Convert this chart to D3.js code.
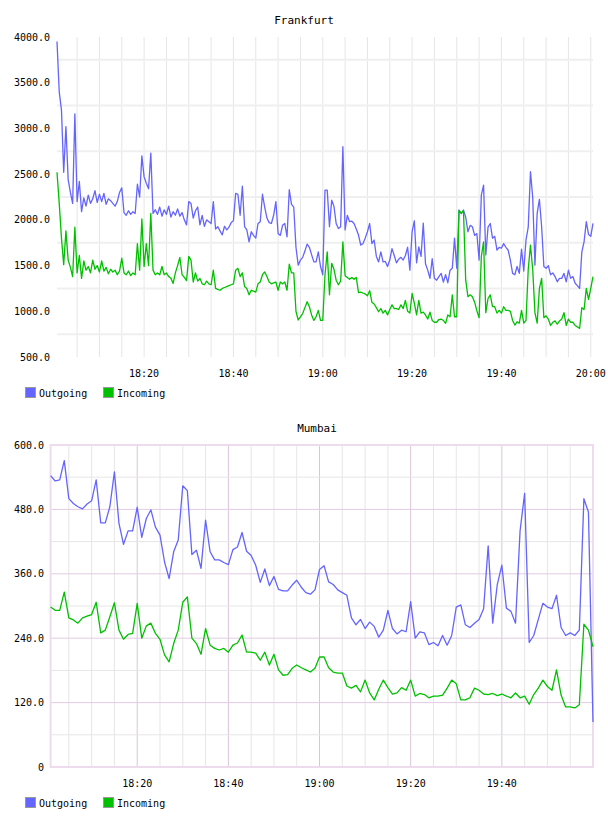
<!DOCTYPE html>
<html>
<head>
<meta charset="utf-8">
<script src="https://cdn.jsdelivr.net/npm/d3@7"></script>
<style>
  body { margin: 0; background: #fff; }
  text { font-family: "DejaVu Sans Mono", monospace; fill: #000; }
</style>
</head>
<body>
<div id="chart"></div>
<script>
// Frankfurt: one sample every 30 s starting 18:00:30
const frankfurtStart = "18:00:30";
const frankfurtStepSec = 30;
const frankfurtOutgoing = [
  3950,3400,3200,2520,3020,2440,2300,2180,3160,2200,2420,2090,2240,2150,2270,2180,2230,2320,2190,2280,
  2200,2290,2170,2230,2210,2180,2150,2200,2300,2350,2080,2050,2100,2060,2090,2070,2390,2250,2700,2470,
  2400,2340,2730,2070,2110,2060,2140,2040,2110,2060,2150,2030,2090,2050,2120,2040,2080,2000,1945,2200,
  2180,2020,2100,2140,1945,2050,1930,2000,1980,1960,2200,1900,1925,1880,1835,1930,1890,1920,1970,1990,
  2290,2280,2050,2370,1925,1890,1760,1870,1830,1800,1960,1980,2280,2140,2020,1970,1960,2050,2200,1850,
  1830,1940,1960,1815,2330,2170,2140,1700,1505,1560,1590,1660,1735,1700,1620,1540,1540,1650,1490,1400,
  2325,2325,1925,2215,2150,1960,1905,1925,2800,1890,2050,1980,1985,1960,1900,1834,1725,1740,1800,1870,
  1960,1740,1780,1600,1540,1650,1540,1545,1490,1560,1685,1610,1530,1570,1590,1560,1610,1700,1450,1870,
  1990,1530,1705,1600,1965,1520,1450,1360,1575,1360,1340,1380,1415,1320,1400,1312,1450,1470,1800,1470,
  2105,2070,2105,2030,1870,1940,1925,1830,1850,1560,2270,2380,1615,1920,1960,1800,1820,1670,1700,1690,
  1740,1700,1670,1560,1415,1400,1490,1415,1680,1440,1780,1920,2526,2250,1505,2070,2224,1925,1490,1470,
  1500,1400,1420,1380,1323,1360,1360,1415,1323,1450,1360,1380,1307,1280,1250,1650,1760,1980,1840,1820,
  1962
];
const frankfurtIncoming = [
  2520,2180,1800,1510,1880,1560,1480,1380,1920,1420,1610,1360,1550,1450,1490,1420,1560,1460,1500,1430,
  1550,1440,1480,1410,1460,1430,1450,1400,1440,1580,1420,1400,1440,1390,1420,1400,1740,1450,2010,1490,
  1740,1500,2070,1450,1400,1420,1400,1490,1400,1420,1380,1360,1305,1420,1500,1590,1400,1370,1335,1600,
  1560,1320,1420,1330,1360,1300,1290,1330,1300,1290,1450,1250,1240,1230,1250,1260,1270,1280,1290,1300,
  1450,1470,1380,1420,1270,1250,1180,1230,1220,1210,1300,1320,1400,1430,1380,1320,1300,1310,1320,1230,
  1320,1300,1320,1230,1515,1420,1420,1000,905,940,975,1040,1105,1050,960,900,940,1010,900,900,
  1400,1650,1180,1525,1460,1340,1290,1330,1760,1390,1370,1350,1370,1350,1370,1205,1210,1200,1190,1170,
  1225,1100,1080,1040,995,1030,980,1010,960,1020,1070,1030,1030,1020,1070,1030,1120,1000,980,1195,
  1090,960,1120,980,990,960,915,990,900,880,880,910,915,900,868,960,940,1180,940,940,
  2105,2070,2105,1340,1160,1180,1160,1100,1005,930,1600,1760,985,1140,1180,1050,1050,980,1010,980,
  1050,1010,1010,1000,900,849,885,870,1010,870,900,1460,1724,1460,985,870,1250,1360,930,950,
  915,845,880,895,860,895,915,985,845,915,880,880,845,830,813,1040,1020,1250,1130,1250,
  1378
];
const frankfurtYTicks = [500, 1000, 1500, 2000, 2500, 3000, 3500, 4000];

// Mumbai: one sample per minute starting 18:01
const mumbaiStart = "18:01:00";
const mumbaiStepSec = 60;
const mumbaiOutgoing = [
  543,533,535,571,500,491,485,481,490,496,535,455,455,485,550,454,415,440,440,484,
  428,463,479,447,432,382,351,401,423,524,515,396,404,370,460,401,386,386,381,377,
  405,410,437,402,394,376,344,369,338,355,331,328,328,339,348,335,325,322,330,368,
  375,345,340,330,325,320,278,265,275,258,270,262,242,255,292,258,248,255,252,308,
  240,252,250,228,232,226,245,227,245,298,302,265,260,268,275,295,412,268,340,376,
  296,290,268,440,510,232,245,275,305,298,295,320,260,245,250,245,255,500,475,84
];
const mumbaiIncoming = [
  298,292,292,326,278,274,268,278,281,284,307,250,255,280,306,255,238,247,249,305,
  240,263,268,249,238,209,196,230,255,307,317,240,230,210,258,227,221,218,221,214,
  227,231,246,214,214,212,199,214,190,210,181,171,172,184,190,185,181,177,184,205,
  205,185,177,175,175,151,147,152,140,162,138,125,145,162,148,136,138,148,143,162,
  132,137,135,129,132,132,134,147,162,155,125,125,129,147,143,136,135,137,133,136,
  132,129,138,129,132,117,135,147,162,150,143,181,134,112,112,110,116,266,255,224
];
const mumbaiYTicks = [0, 120, 240, 360, 480, 600];

const seriesNames = ["Outgoing", "Incoming"];
const seriesColors = ["#6464ff", "#00c000"];

const day = "2014-01-01T";
const parse = s => new Date(day + s);
const timesFrom = (start, step, n) => d3.range(n).map(i => new Date(+parse(start) + i * step * 1000));

const svg = d3.select("#chart").append("svg")
  .attr("width", 608)
  .attr("height", 816);

function drawChart(opt) {
  const g = svg.append("g");
  const x = d3.scaleTime().domain(opt.xDomain).range([opt.left, opt.right]);
  const y = d3.scaleLinear().domain(opt.yDomain).range([opt.bottom, opt.top]);

  // vertical grid every 5 minutes
  const minor = d3.timeMinute.every(5).range(opt.xDomain[0], new Date(+opt.xDomain[1] + 1));
  g.selectAll(".vgrid").data(minor).enter().append("line")
    .attr("x1", d => x(d)).attr("x2", d => x(d))
    .attr("y1", opt.top).attr("y2", opt.bottom)
    .attr("stroke", d => (opt.boxed && d.getMinutes() % 20 === 0) ? "#dcc4dc" : "#e6e6e6")
    .attr("stroke-width", 1);

  // horizontal grid
  g.selectAll(".hgrid").data(opt.hGrid).enter().append("line")
    .attr("x1", opt.left).attr("x2", opt.right)
    .attr("y1", d => y(d)).attr("y2", d => y(d))
    .attr("stroke", d => opt.hGridColor(d))
    .attr("stroke-width", opt.hGridWidth);

  if (opt.boxed) {
    g.append("rect")
      .attr("x", opt.left).attr("y", opt.top)
      .attr("width", opt.right - opt.left).attr("height", opt.bottom - opt.top)
      .attr("fill", "none").attr("stroke", "#eedcee").attr("stroke-width", 2);
  }

  // y labels
  g.selectAll(".ylab").data(opt.yTicks).enter().append("text")
    .attr("x", opt.yLabelX).attr("y", d => y(d))
    .attr("dy", "0.35em")
    .attr("text-anchor", "end")
    .style("font-size", "10px")
    .text(opt.yFormat);

  // x labels every 20 minutes
  const major = d3.timeMinute.every(20).range(opt.xDomain[0], new Date(+opt.xDomain[1] + 1))
    .filter(d => x(d) > opt.left + 20 && x(d) < opt.right - opt.lastGap);
  g.selectAll(".xlab").data(major).enter().append("text")
    .attr("x", d => x(d)).attr("y", opt.bottom + 20)
    .attr("text-anchor", "middle")
    .style("font-size", "10px")
    .text(d3.timeFormat("%H:%M"));

  // title
  g.append("text")
    .attr("x", opt.titleX).attr("y", opt.top - 13)
    .attr("text-anchor", "middle")
    .style("font-size", "11px")
    .text(opt.title);

  // lines
  const line = d3.line().x(d => x(d[0])).y(d => y(d[1]));
  opt.series.forEach((vals, i) => {
    g.append("path")
      .datum(vals.map((v, j) => [opt.times[j], v]))
      .attr("fill", "none")
      .attr("stroke", seriesColors[i])
      .attr("stroke-width", 1.3)
      .attr("stroke-linejoin", "round")
      .attr("d", line);
  });

  // legend
  const leg = g.append("g").attr("transform", `translate(25, ${opt.bottom + 30})`);
  seriesNames.forEach((name, i) => {
    const item = leg.append("g").attr("transform", `translate(${i * 78}, 0)`);
    item.append("rect")
      .attr("x", 0.5).attr("y", 0.5).attr("width", 10).attr("height", 10)
      .attr("fill", seriesColors[i]).attr("stroke", "#999");
    item.append("text")
      .attr("x", 14).attr("y", 6).attr("dy", "0.35em")
      .style("font-size", "10px")
      .text(name);
  });
}

const fTimes = timesFrom(frankfurtStart, frankfurtStepSec, frankfurtOutgoing.length);
drawChart({
  title: "Frankfurt", titleX: 304,
  times: fTimes,
  series: [frankfurtOutgoing, frankfurtIncoming],
  xDomain: [fTimes[0], fTimes[fTimes.length - 1]],
  yDomain: [500, 4000],
  left: 57, right: 593, top: 37, bottom: 357,
  yTicks: frankfurtYTicks, yLabelX: 50,
  yFormat: d3.format(".1f"),
  hGrid: frankfurtYTicks.slice(0, -1).map(d => d + 250),
  hGridColor: () => "#efefef", hGridWidth: 2,
  boxed: false, lastGap: -10
});

const mTimes = timesFrom(mumbaiStart, mumbaiStepSec, mumbaiOutgoing.length);
drawChart({
  title: "Mumbai", titleX: 317,
  times: mTimes,
  series: [mumbaiOutgoing, mumbaiIncoming],
  xDomain: [mTimes[0], mTimes[mTimes.length - 1]],
  yDomain: [0, 600],
  left: 50.6, right: 593, top: 445, bottom: 767,
  yTicks: mumbaiYTicks, yLabelX: 44,
  yFormat: d => d === 0 ? "0" : d3.format(".1f")(d),
  hGrid: d3.range(60, 600, 60),
  hGridColor: d => d % 120 === 0 ? "#e2cce2" : "#e6e6e6", hGridWidth: 1,
  boxed: true, lastGap: 5
});
</script>
</body>
</html>
